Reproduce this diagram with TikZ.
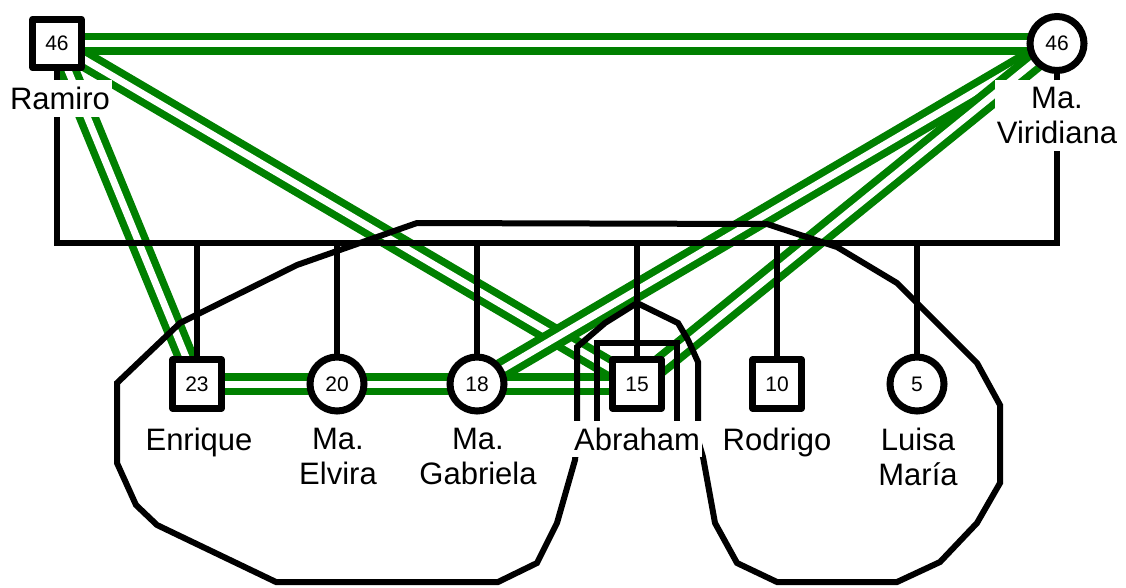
\documentclass[tikz,border=0pt]{standalone}
\usepackage{fontspec}
\setmainfont{Liberation Sans}
\definecolor{closegreen}{RGB}{0,128,0}
\pgfdeclarelayer{bonds}
\pgfdeclarelayer{ties}
\pgfsetlayers{bonds,ties,main}

\begin{document}
\begin{tikzpicture}[x=1pt,y=-1pt,
  person/.style={draw=black,line width=7pt,fill=white,inner sep=0pt,
    font=\fontsize{21}{24}\selectfont},
  male/.style={person,rectangle,minimum size=48.5pt,line join=round},
  female/.style={person,circle,minimum size=54pt},
  namelbl/.style={anchor=north,fill=white,align=center,inner xsep=2pt,
    inner ysep=7pt,font=\fontsize{31}{35}\selectfont},
  tie/.style={draw=black,line width=5.5pt},
  household/.style={draw=black,line width=6pt},
  bond/.style={draw=closegreen,line width=7.5pt,double=white,double distance=7pt}
]
\useasboundingbox (0,0) rectangle (1126,587);

% parents
\node[male]   (ramiro)    at (57,43.5) {46};
\node[female] (viridiana) at (1057,43.5) {46};

% children
\node[male]   (enrique)  at (197,384) {23};
\node[female] (elvira)   at (337,384) {20};
\node[female] (gabriela) at (477,384) {18};
\node[male]   (abraham)  at (637,384) {15};
\node[male]   (rodrigo)  at (777,384) {10};
\node[female] (luisa)    at (917,384) {5};

% names
\node[namelbl] (ramiro-name)    at (60,80)     {Ramiro};
\node[namelbl] (viridiana-name) at (1057,80)   {Ma.\\Viridiana};
\node[namelbl] (enrique-name)   at (199,420.5) {Enrique};
\node[namelbl] (elvira-name)    at (338,420.5) {Ma.\\Elvira};
\node[namelbl] (gabriela-name)  at (478,420.5) {Ma.\\Gabriela};
\node[namelbl] (abraham-name)   at (637,420.5) {Abraham};
\node[namelbl] (rodrigo-name)   at (777,420.5) {Rodrigo};
\node[namelbl] (luisa-name)     at (918,420.5) {Luisa\\María};

\coordinate (sibline) at (0,243);

% close relationships
\begin{pgfonlayer}{bonds}
  \draw[bond] (ramiro.center) -- (viridiana.center);
  \draw[bond] (ramiro.center) -- (enrique.center);
  \draw[bond] (ramiro.center) -- (abraham.center);
  \draw[bond] (viridiana.center) -- (gabriela.center);
  \draw[bond] (viridiana.center) -- (abraham.center);
  \draw[bond] (enrique.center) -- (elvira.center);
  \draw[bond] (elvira.center) -- (gabriela.center);
  \draw[bond] (gabriela.center) -- (abraham.center);
\end{pgfonlayer}

% family lines and households
\begin{pgfonlayer}{ties}
  \draw[tie] (ramiro.center) -- (ramiro.center |- sibline)
             -- (viridiana.center |- sibline) -- (viridiana.center);
  \foreach \kid in {enrique,elvira,gabriela,abraham,rodrigo,luisa}
    \draw[tie] (\kid.center |- sibline) -- (\kid.center);

  \draw[household] (577,440) -- (577,347) -- (605,323) -- (637,303)
    -- (678,323) -- (688,340) -- (698,362) -- (698,440) -- (703,457)
    -- (715,523) -- (737,563) -- (777,582) -- (897,582) -- (940,562)
    -- (977,523) -- (1000,483) -- (1000,405) -- (977,363) -- (897,283)
    -- (837,247) -- (767,224) -- (417,223) -- (297,265) -- (180,323)
    -- (117,383) -- (117,463) -- (136,505) -- (157,525) -- (276,582)
    -- (498,582) -- (537,563) -- (557,523) -- (575,460) -- cycle;
  \draw[household] (597,440) -- (597,343) -- (677,343) -- (677,440) -- cycle;
\end{pgfonlayer}
\end{tikzpicture}
\end{document}
